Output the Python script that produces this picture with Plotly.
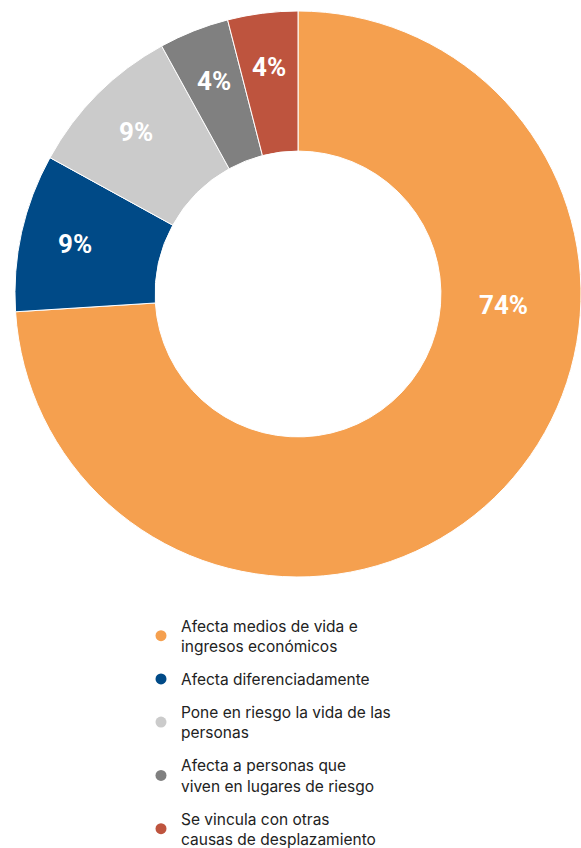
import math
import plotly.graph_objects as go

# Data
labels = [
    "Afecta medios de vida e<br>ingresos económicos",
    "Afecta diferenciadamente",
    "Pone en riesgo la vida de las<br>personas",
    "Afecta a personas que<br>viven en lugares de riesgo",
    "Se vincula con otras<br>causas de desplazamiento",
]
values = [74, 9, 9, 4, 4]
colors = ["#F5A04F", "#004A87", "#CBCBCB", "#808080", "#BE543E"]

W, H = 581, 848
cx, cy, R = 298, 294, 283          # donut centre / outer radius in px
label_font = dict(family="Roboto", size=26, color="white", weight="bold")

fig = go.Figure()
fig.add_trace(go.Pie(
    labels=labels, values=values, hole=0.505, sort=False,
    direction="clockwise", rotation=0,
    marker=dict(colors=colors, line=dict(color="white", width=1)),
    textinfo="none", showlegend=False, hoverinfo="label+percent",
    domain=dict(x=[(cx - R) / W, (cx + R) / W], y=[1 - (cy + R) / H, 1 - (cy - R) / H]),
))

# percentage labels: middle of each slice, the big one sits right of the hole
total = sum(values)
start = 0
for i, v in enumerate(values):
    mid = (start + v / 2) / total * 360
    r = 229
    if i == 0:
        mid, r = 93, 206
    px = cx + r * math.sin(math.radians(mid))
    py = cy - r * math.cos(math.radians(mid))
    fig.add_annotation(
        x=px / W, y=1 - py / H, xref="paper", yref="paper",
        xanchor="center", yanchor="middle",
        text=f"{round(v / total * 100)}%", showarrow=False, font=label_font,
    )
    start += v

# legend entries with round markers
for lab, col in zip(labels, colors):
    fig.add_trace(go.Scatter(
        x=[None], y=[None], mode="markers", name=lab,
        marker=dict(color=col, size=11, symbol="circle"),
        legendgroup=lab,
    ))

fig.update_layout(
    width=W, height=H,
    margin=dict(l=0, r=0, t=0, b=0, autoexpand=False),
    paper_bgcolor="white", plot_bgcolor="white",
    xaxis=dict(visible=False), yaxis=dict(visible=False),
    legend=dict(
        x=141 / W, y=-8 / H, xanchor="left", yanchor="bottom",
        font=dict(family="Inter", size=15.5, color="#222222"),
        traceorder="grouped", tracegroupgap=10,
        itemclick=False, itemdoubleclick=False,
    ),
)

fig.write_html("out.html", config={"displayModeBar": False},
               post_script="document.body.style.margin='0';")
